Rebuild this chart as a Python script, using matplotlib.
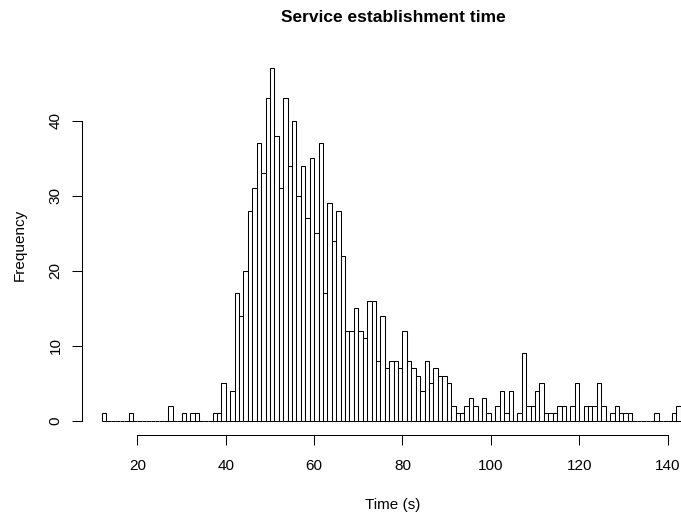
import matplotlib.pyplot as plt
import numpy as np

plt.rcParams['font.family'] = ['Liberation Sans', 'DejaVu Sans']

# one-second bins, left edges 12 .. 142
bin_left = np.arange(12, 143)
counts = [1, 0, 0, 0, 0, 0, 1, 0, 0, 0, 0, 0, 0, 0, 0,      # 12-26
          2, 0, 0, 1, 0, 1, 1, 0, 0, 0,                     # 27-36
          1, 1, 5, 0, 4,                                    # 37-41
          17, 14, 20, 28, 31, 37, 33, 43, 47, 38,           # 42-51
          31, 43, 34, 40, 30, 34, 27, 35, 25, 37,           # 52-61
          17, 29, 24, 28, 22, 12, 12, 15, 12, 11,           # 62-71
          16, 16, 8, 14, 7, 8, 8, 7, 12, 8,                 # 72-81
          7, 6, 4, 8, 5, 7, 6, 6, 5, 2,                     # 82-91
          1, 1, 2, 3, 2, 0, 3, 1, 0, 2,                     # 92-101
          4, 1, 4, 0, 1, 9, 2, 2, 4, 5,                     # 102-111
          1, 1, 1, 2, 2, 0, 2, 5, 0, 2,                     # 112-121
          2, 2, 5, 2, 0, 1, 2, 1, 1, 1,                     # 122-131
          0, 0, 0, 0, 0, 1, 0, 0, 0, 1, 2]                  # 132-142
xticks = [20, 40, 60, 80, 100, 120, 140]
yticks = [0, 10, 20, 30, 40]

fig = plt.figure(figsize=(6.81, 5.16), dpi=100)
# plot region runs past the right edge of the figure
ax = fig.add_axes([82/681, 81/516, 622/681, 380.6/516])

ax.bar(bin_left, counts, width=1, align='edge', color='white',
       edgecolor='black', linewidth=0.75)

ax.set_xlim(7.46, 148.24)
ax.set_ylim(-1.88, 48.88)

for s in ['top', 'right']:
    ax.spines[s].set_visible(False)
ax.spines['left'].set_bounds(0, 40)
ax.spines['bottom'].set_bounds(20, 140)
for s in ['left', 'bottom']:
    ax.spines[s].set_linewidth(0.75)

ax.set_xticks(xticks)
ax.set_yticks(yticks)
ax.tick_params(direction='out', length=7, width=0.75, labelsize=11)
ax.tick_params(axis='x', pad=10)
ax.tick_params(axis='y', pad=7)
ax.set_yticklabels([str(t) for t in yticks], rotation=90, va='center')

ax.set_xlabel('Time (s)', fontsize=11, labelpad=18)
ax.set_ylabel('Frequency', fontsize=11, labelpad=16)
ax.set_title('Service establishment time', fontsize=12.5, fontweight='bold', pad=23)

fig.savefig('out.png', dpi=100)
